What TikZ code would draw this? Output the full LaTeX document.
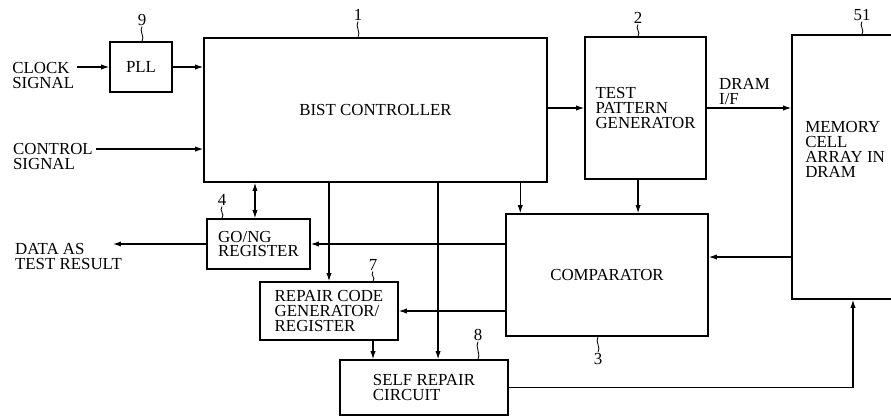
\documentclass[tikz,border=0pt]{standalone}
\usepackage{fontspec}
\setmainfont{Liberation Serif}
\usetikzlibrary{positioning, arrows.meta}

\begin{document}
\begin{tikzpicture}[
        blk/.style={draw, line width=1.1pt, align=left, inner sep=0pt,
            font=\fontsize{12}{10.5}\selectfont},
        txt/.style={align=left, inner sep=2pt, font=\fontsize{12}{10.5}\selectfont},
        tag/.style={inner sep=0.5pt, font=\fontsize{12}{12}\selectfont},
        sig/.style={-{Latex[length=2mm, width=1.3mm]}, line width=0.8pt},
        tick/.style={line width=0.6pt}
    ]
    \useasboundingbox (0, 0) rectangle (22.275, -10.425);

    % === Blocks ===
    \node[blk, minimum width=1.55cm, minimum height=1.25cm] (pll) at (3.525, -1.675) {PLL};
    \node[blk, minimum width=8.575cm, minimum height=3.6cm] (bist) at (9.3875, -2.75) {BIST CONTROLLER};
    \node[blk, minimum width=3.025cm, minimum height=3.55cm] (tpg) at (16.1375, -2.7)
        {TEST\\PATTERN\\GENERATOR};
    \node[blk, minimum width=2.825cm, minimum height=6.6cm] (mem) at (21.2125, -4.175) {};
    \node[txt, anchor=west] (memtxt) at (20.055, -3.7375) {MEMORY\\CELL\\ARRAY IN\\DRAM};
    \node[blk, minimum width=5.05cm, minimum height=3.05cm] (comp) at (15.175, -6.875) {COMPARATOR};
    \node[blk, minimum width=2.575cm, minimum height=1.25cm] (gong) at (6.4625, -6.1)
        {GO/NG\\REGISTER};
    \node[blk, minimum width=3.45cm, minimum height=1.45cm] (rep) at (8.225, -7.775)
        {REPAIR CODE\\GENERATOR/\\REGISTER};
    \node[blk, minimum width=4.2cm, minimum height=1.375cm] (self) at (10.6, -9.6875)
        {SELF REPAIR\\CIRCUIT};

    % === Outside texts ===
    \node[txt, anchor=west] (clk) at (0.23, -1.8875) {CLOCK\\SIGNAL};
    \node[txt, anchor=west] (ctl) at (0.25, -3.9125) {CONTROL\\SIGNAL};
    \node[txt, anchor=west] (dat) at (0.3, -6.4125) {DATA AS\\TEST RESULT};

    % === Reference numerals ===
    \node[tag] (n9) at (3.55, -0.5) {9};
    \node[tag] (n1) at (8.95, -0.375) {1};
    \node[tag] (n2) at (15.95, -0.45) {2};
    \node[tag] (n51) at (21.55, -0.375) {51};
    \node[tag] (n4) at (5.55, -5.0) {4};
    \node[tag] (n7) at (9.325, -6.625) {7};
    \node[tag] (n8) at (11.95, -8.375) {8};
    \node[tag] (n3) at (14.95, -8.975) {3};

    \draw[tick] (n9.south) .. controls +(-0.08, -0.1) and +(0.08, 0.1) .. (n9.south |- pll.north);
    \draw[tick] (n1.south) .. controls +(-0.08, -0.1) and +(0.08, 0.1) .. (n1.south |- bist.north);
    \draw[tick] (n2.south) .. controls +(-0.08, -0.1) and +(0.08, 0.1) .. (n2.south |- tpg.north);
    \draw[tick] (n51.south) .. controls +(-0.08, -0.1) and +(0.08, 0.1) .. (n51.south |- mem.north);
    \draw[tick] (n4.south) .. controls +(-0.08, -0.1) and +(0.08, 0.1) .. (n4.south |- gong.north);
    \draw[tick] (n7.south) .. controls +(-0.08, -0.1) and +(0.08, 0.1) .. (n7.south |- rep.north);
    \draw[tick] (n8.south) .. controls +(-0.08, -0.1) and +(0.08, 0.1) .. (n8.south |- self.north);
    \draw[tick] (n3.north) .. controls +(0.08, 0.1) and +(-0.08, -0.1) .. (n3.north |- comp.south);

    % === Signals ===
    \draw[sig] (clk.east |- pll.west) -- (pll.west);
    \draw[sig] (pll.east) -- (pll.east -| bist.west);
    \draw[sig] ([yshift=5.3pt]ctl.east) -- ([yshift=5.3pt]ctl.east -| bist.west);
    \draw[sig] (tpg.west -| bist.east) -- (tpg.west);
    \draw[sig] (tpg.east) -- (tpg.east -| mem.west)
        node[txt, pos=0, anchor=south west, xshift=6.4pt] (dramif) {DRAM\\I/F};
    \draw[sig] ([xshift=-5.3pt]tpg.south) -- ([xshift=-5.3pt]tpg.south |- comp.north);
    \draw[sig] ([xshift=10.7pt]comp.north west |- bist.south) -- ([xshift=10.7pt]comp.north west);
    \draw[sig] ([yshift=12.8pt]comp.east -| mem.west) -- ([yshift=12.8pt]comp.east);
    \draw[sig] (comp.west |- gong.east) -- (gong.east);
    \draw[sig] (gong.west) -- ([xshift=-8.5pt]gong.west -| dat.east);
    \draw[{Latex[length=2mm, width=1.3mm]}-{Latex[length=2mm, width=1.3mm]}, line width=0.8pt]
        ([xshift=-2.5pt]gong.north |- bist.south) -- ([xshift=-2.5pt]gong.north);
    \draw[sig] (comp.west |- rep.east) -- (rep.east);
    \draw[sig] (rep.north |- bist.south) -- (rep.north);
    \draw[sig] ([xshift=31.3pt]rep.south) -- ([xshift=31.3pt]rep.south |- self.north);
    \draw[sig] ([xshift=10pt]self.north |- bist.south) -- ([xshift=10pt]self.north);
    \draw[sig] (self.east) -| ([xshift=3.2pt]mem.south);

\end{tikzpicture}
\end{document}
